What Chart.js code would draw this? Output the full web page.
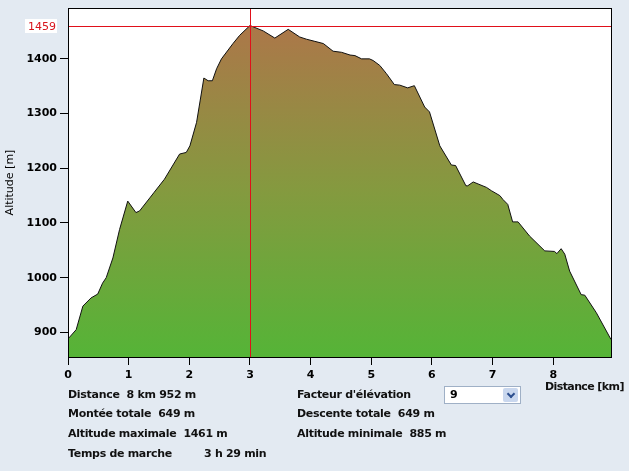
<!DOCTYPE html>
<html>
<head>
<meta charset="utf-8">
<script src="https://cdn.jsdelivr.net/npm/chart.js@4"></script>
<style>
  html, body { margin: 0; padding: 0; background: #e3eaf2; }
  #wrap { position: relative; width: 629px; height: 471px; overflow: hidden; }
  #wrap canvas { position: absolute; left: 0; top: 0; }
  .t { position: absolute; font: bold 11px "DejaVu Sans", sans-serif; color: #111; white-space: pre; letter-spacing: -0.3px; }
  #sel { position: absolute; left: 444px; top: 386px; width: 75px; height: 16px; background: #fff; border: 1px solid #9fb0c6; }
  #sel span { position: absolute; left: 5px; top: 1px; font: bold 11px "DejaVu Sans", sans-serif; }
  #sel i { position: absolute; right: 2px; top: 1px; width: 15px; height: 14px; background: #c9d7ee; border-radius: 2px; }
  #sel i:after { content: ""; position: absolute; left: 5px; top: 3px; width: 4px; height: 4px; border-right: 2px solid #2d4f8f; border-bottom: 2px solid #2d4f8f; transform: rotate(45deg); }
</style>
</head>
<body>
<div id="wrap">
  <canvas id="profile" width="629" height="471"></canvas>
  <div class="t" style="left:545px; top:380px; letter-spacing:-0.6px;">Distance [km]</div>
  <div class="t" style="left:68px; top:388px;">Distance  8 km 952 m</div>
  <div class="t" style="left:68px; top:407px;">Montée totale  649 m</div>
  <div class="t" style="left:68px; top:427px;">Altitude maximale  1461 m</div>
  <div class="t" style="left:68px; top:447px;">Temps de marche</div>
  <div class="t" style="left:204px; top:447px;">3 h 29 min</div>
  <div class="t" style="left:297px; top:388px;">Facteur d'élévation</div>
  <div id="sel"><span>9</span><i></i></div>
  <div class="t" style="left:297px; top:407px;">Descente totale  649 m</div>
  <div class="t" style="left:297px; top:427px;">Altitude minimale  885 m</div>
</div>
<script>
// profil altimétrique : distance (km) / altitude (m)
const distKm = [0, 0.135, 0.245, 0.38, 0.49, 0.57, 0.63, 0.74, 0.85, 0.985, 1.12, 1.18, 1.35, 1.42, 1.59,
  1.84, 1.95, 2.01, 2.12, 2.24, 2.31, 2.38, 2.45, 2.53, 2.72, 2.83, 3.0, 3.22, 3.41, 3.63, 3.82, 3.93,
  4.07, 4.21, 4.37, 4.51, 4.65, 4.73, 4.84, 4.97, 5.03, 5.14, 5.25, 5.38, 5.47, 5.60, 5.71, 5.88, 5.96,
  6.13, 6.32, 6.39, 6.56, 6.59, 6.68, 6.90, 6.98, 7.12, 7.17, 7.25, 7.33, 7.42, 7.61, 7.86, 8.02, 8.06,
  8.13, 8.19, 8.27, 8.46, 8.52, 8.71, 8.952];
const altM = [888, 905, 948, 963, 970, 990, 1000, 1036, 1088, 1140, 1119, 1122, 1146, 1156, 1180,
  1226, 1229, 1241, 1284, 1365, 1360, 1360, 1382, 1400, 1428, 1443, 1461, 1451, 1438, 1454, 1440, 1436,
  1432, 1428, 1414, 1412, 1407, 1406, 1400, 1400, 1397, 1388, 1373, 1353, 1352, 1347, 1351, 1312, 1303,
  1241, 1206, 1205, 1168, 1168, 1175, 1165, 1159, 1150, 1143, 1134, 1102, 1102, 1076, 1049, 1048, 1044,
  1053, 1043, 1012, 969, 968, 936, 887];

const xTicks = [0, 1, 2, 3, 4, 5, 6, 7, 8];
const yTicks = [900, 1000, 1100, 1200, 1300, 1400];
const xMax = 8.952;
const yMin = 855;
const yMax = 1493;
const cursorKm = 3.0;
const cursorAlt = 1461;     // position du curseur (point haut)
const cursorLabel = '1459'; // valeur affichée

const tickFont = { family: '"DejaVu Sans", sans-serif', size: 11, weight: 'bold' };

// fond blanc + cadre noir de la zone du graphe
const framePlugin = {
  id: 'frame',
  beforeDraw(chart) {
    const a = chart.chartArea, c = chart.ctx;
    c.save();
    c.fillStyle = '#fff';
    c.fillRect(a.left, a.top, a.right - a.left, a.bottom - a.top);
    c.restore();
  },
  afterDraw(chart) {
    const a = chart.chartArea, c = chart.ctx;
    c.save();
    c.strokeStyle = '#000';
    c.lineWidth = 1;
    c.strokeRect(Math.round(a.left) + 0.5, Math.round(a.top) + 0.5, Math.round(a.right - a.left), Math.round(a.bottom - a.top));
    c.restore();
  }
};

// curseur rouge sur le point haut
const cursorPlugin = {
  id: 'cursor',
  afterDatasetsDraw(chart) {
    const a = chart.chartArea, c = chart.ctx;
    const x = Math.round(chart.scales.x.getPixelForValue(cursorKm));
    const y = Math.round(chart.scales.y.getPixelForValue(cursorAlt));
    c.save();
    c.fillStyle = '#e0101a';
    c.fillRect(a.left, y, a.right - a.left, 1);
    c.fillRect(x, a.top, 1, a.bottom - a.top);
    c.fillStyle = '#fff';
    c.fillRect(25, y - 7, 32, 14);
    c.fillStyle = '#d8141c';
    c.font = '11px "DejaVu Sans", sans-serif';
    c.textAlign = 'right';
    c.textBaseline = 'middle';
    c.fillText(cursorLabel, 56, y + 1);
    c.restore();
  }
};

new Chart(document.getElementById('profile').getContext('2d'), {
  type: 'line',
  data: {
    datasets: [{
      data: distKm.map((d, i) => ({ x: d, y: altM[i] })),
      borderColor: '#111',
      borderWidth: 1,
      pointRadius: 0,
      tension: 0,
      fill: 'start',
      backgroundColor: (ctx) => {
        const chart = ctx.chart;
        const a = chart.chartArea;
        if (!a) return '#8a9a40';
        const top = chart.scales.y.getPixelForValue(cursorAlt);
        const g = chart.ctx.createLinearGradient(0, top, 0, a.bottom);
        g.addColorStop(0, '#ac7749');
        g.addColorStop(0.5, '#849a3f');
        g.addColorStop(1, '#55b437');
        return g;
      }
    }]
  },
  options: {
    responsive: false,
    animation: false,
    layout: { padding: { top: 8, right: 18, left: 0, bottom: 0 } },
    plugins: { legend: { display: false }, tooltip: { enabled: false } },
    scales: {
      x: {
        type: 'linear',
        min: 0,
        max: xMax,
        afterBuildTicks: s => { s.ticks = xTicks.map(v => ({ value: v })); },
        afterFit: s => { s.height = 114; s.paddingLeft = 0; s.paddingRight = 0; },
        ticks: { color: '#000', font: tickFont, padding: 4, maxRotation: 0, autoSkip: false, callback: v => String(v) },
        grid: { drawOnChartArea: false, tickLength: 8, color: '#000' },
        border: { color: '#000' }
      },
      y: {
        min: yMin,
        max: yMax,
        afterBuildTicks: s => { s.ticks = yTicks.map(v => ({ value: v })); },
        afterFit: s => { s.width = 68; s.paddingTop = 0; s.paddingBottom = 0; },
        ticks: { color: '#000', font: tickFont, padding: 3, autoSkip: false, callback: v => String(v) },
        grid: { drawOnChartArea: false, tickLength: 8, color: '#000' },
        border: { color: '#000' },
        title: {
          display: true,
          text: 'Altitude [m]',
          color: '#000',
          font: { family: '"DejaVu Sans", sans-serif', size: 11 },
          padding: { top: 4, bottom: 0 }
        }
      }
    }
  },
  plugins: [framePlugin, cursorPlugin]
});
</script>
</body>
</html>
